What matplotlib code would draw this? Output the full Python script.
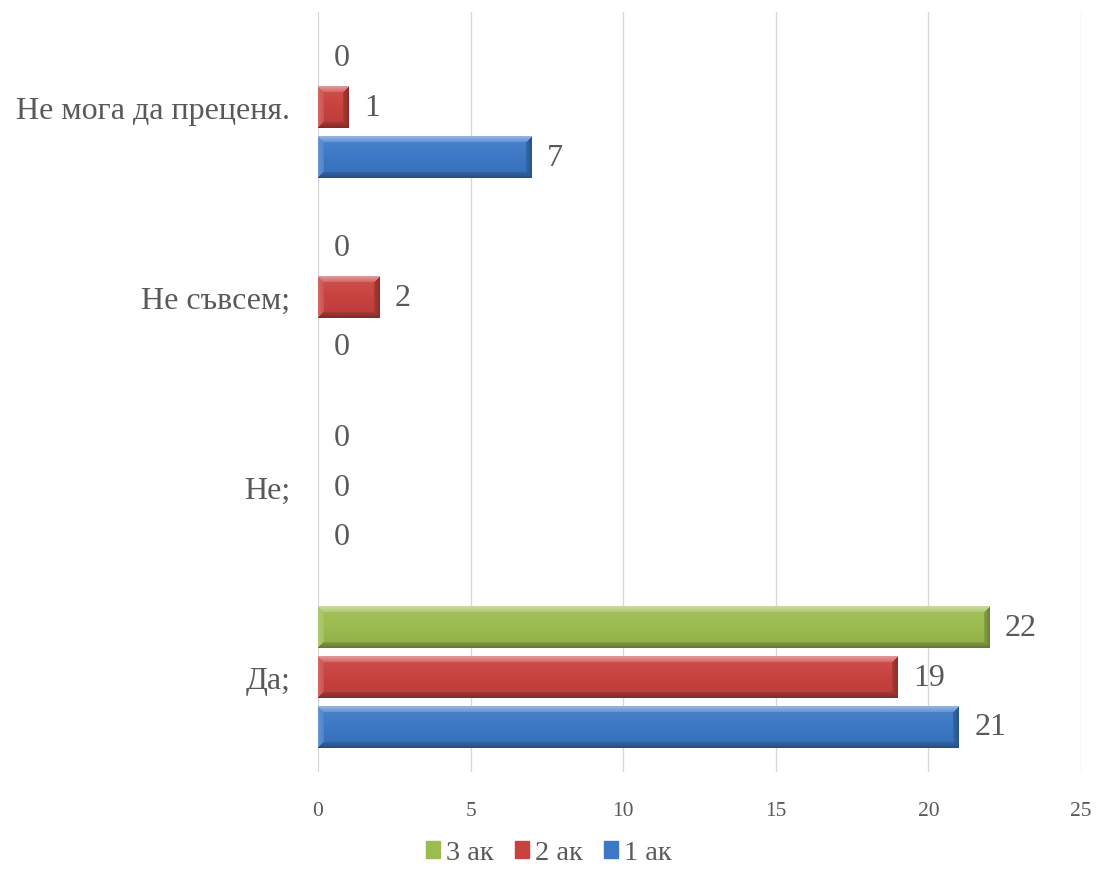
import numpy as np
import matplotlib
matplotlib.use("Agg")
import matplotlib.pyplot as plt
from matplotlib.colors import to_rgb

plt.rcParams['font.family'] = ['Liberation Serif', 'DejaVu Serif']

categories = ["Да;", "Не;", "Не съвсем;", "Не мога да преценя."]
series_names = ["1 ак", "2 ак", "3 ак"]
values_1 = [21, 0, 0, 7]
values_2 = [19, 0, 2, 1]
values_3 = [22, 0, 0, 0]
x_ticks = [0, 5, 10, 15, 20, 25]

colors = ["#3C78C6", "#C8423F", "#9BBC4E"]
text_gray = "#595959"


def bevel_image(color, wpx, hpx, b=6):
    # pixel map of a bevelled bar: light top/left, dark bottom/right
    base = np.array(to_rgb(color))
    yy, xx = np.mgrid[0:hpx, 0:wpx]
    d = np.stack([yy, hpx - 1 - yy, xx, wpx - 1 - xx])
    near = np.argmin(d, axis=0)
    dmin = np.min(d, axis=0)
    t = yy / max(hpx - 1, 1)
    f = 0.08 - 0.16 * t
    amt = np.array([0.45, -0.35, 0.2, -0.3])
    fe = amt[near] * (1 - dmin / b * 0.6)
    f = np.where(dmin < b, fe, f)
    img = np.empty((hpx, wpx, 3))
    for k in range(3):
        c = base[k]
        img[..., k] = np.where(f >= 0, c + (1 - c) * f, c * (1 + f))
    return np.clip(img, 0, 1)


def bevel_fill(ax, patch, color):
    x0, y0 = patch.get_x(), patch.get_y()
    w, h = patch.get_width(), patch.get_height()
    if w <= 0:
        return
    p0 = ax.transData.transform((x0, y0))
    p1 = ax.transData.transform((x0 + w, y0 + h))
    wpx = max(int(round(abs(p1[0] - p0[0]))), 2)
    hpx = max(int(round(abs(p1[1] - p0[1]))), 2)
    img = bevel_image(color, wpx, hpx)
    ax.imshow(img, extent=(x0, x0 + w, y0, y0 + h), origin='upper',
              aspect='auto', zorder=3, interpolation='nearest')


fig = plt.figure(figsize=(10.97, 8.7), dpi=100)
ax = fig.add_axes([0.2899, 0.1115, 0.6955, 0.8735])
ax.set_xlim(0, 25)
ax.set_ylim(-0.5, len(categories) - 0.5)

y = np.arange(len(categories))
step = 0.263
bar_h = 0.221
all_vals = [values_1, values_2, values_3]
for i, (name, vals, col) in enumerate(zip(series_names, all_vals, colors)):
    pos = y + (i - 1) * step
    bars = ax.barh(pos, vals, height=bar_h, color=col, zorder=2, label=name)
    for b, v in zip(bars, vals):
        bevel_fill(ax, b, col)
        ax.annotate(str(v), (v, b.get_y() + b.get_height() / 2),
                    xytext=(11, 0), textcoords='offset points',
                    ha='left', va='center', fontsize=23, color=text_gray)

ax.set_xlim(0, 25)
ax.set_ylim(-0.5, len(categories) - 0.5)
ax.set_xticks(x_ticks)
ax.set_xticklabels([str(t) for t in x_ticks])
ax.set_yticks(y)
ax.set_yticklabels(categories)
ax.tick_params(axis='x', length=0, labelsize=15.5, labelcolor=text_gray, pad=21)
ax.tick_params(axis='y', length=0, labelsize=23, labelcolor=text_gray, pad=20)
ax.grid(axis='x', color='#D9D9D9', linewidth=1.0, zorder=0)
ax.set_axisbelow(True)
for s in ax.spines.values():
    s.set_visible(False)

handles = [plt.Rectangle((0, 0), 1, 1, color=c) for c in colors]
fig.legend(handles[::-1], series_names[::-1], loc='center',
           bbox_to_anchor=(0.5, 1 - 854 / 870), ncol=3, frameon=False,
           fontsize=20.5, handlelength=0.5, handleheight=0.5,
           handletextpad=0.2, columnspacing=0.75, labelcolor=text_gray,
           borderpad=0.2)

fig.savefig("out.png", dpi=100)
